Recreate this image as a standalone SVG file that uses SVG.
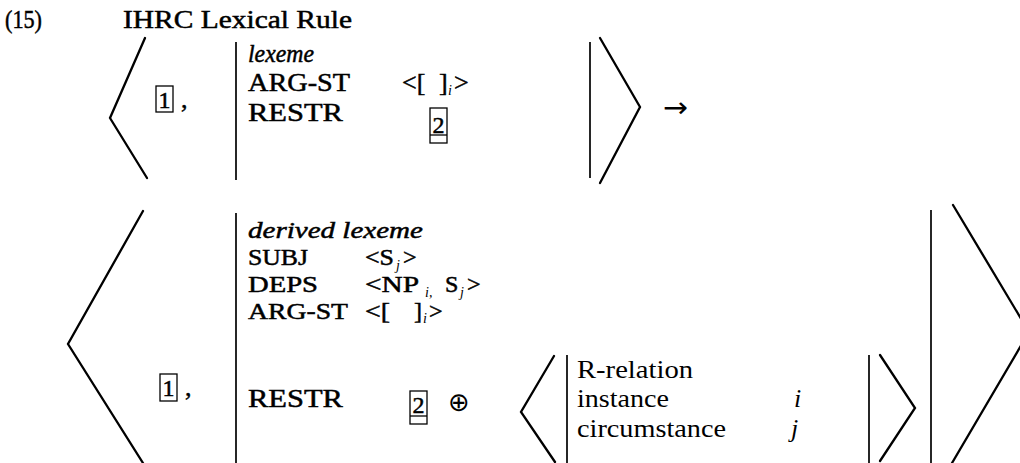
<svg xmlns="http://www.w3.org/2000/svg" width="1020" height="463" viewBox="0 0 1020 463">
<style>
.t{font-family:"Liberation Serif","Times New Roman",serif;font-size:26px;fill:#000}
.s{font-size:24px}
.h{stroke:#000;stroke-width:0.5}
.it{font-style:italic}
.sub{font-family:"Liberation Serif","Times New Roman",serif;font-size:14px;font-style:italic;fill:#000}
.br{fill:none;stroke:#000;stroke-width:2.3;stroke-linejoin:miter;stroke-linecap:round}
.vl{fill:none;stroke:#000;stroke-width:1.7}
.box{fill:none;stroke:#000;stroke-width:1.3}
</style>
<rect width="1020" height="463" fill="#fff"/>
<g id="title">
<text class="t h" x="5" y="28" textLength="37" lengthAdjust="spacingAndGlyphs">(15)</text>
<text class="t h" x="123" y="28" textLength="229" lengthAdjust="spacingAndGlyphs">IHRC Lexical Rule</text>
</g>
<g id="input">
<polyline class="br" points="145,38 110,118 147,178"/>
<rect class="box" x="156" y="86" width="17" height="26"/>
<text class="t h s" x="164.5" y="108" text-anchor="middle">1</text>
<text class="t h" x="181" y="108">,</text>
<line class="vl" x1="236" y1="42" x2="236" y2="180"/>
<text class="t h it" x="248" y="62" textLength="66" lengthAdjust="spacingAndGlyphs">lexeme</text>
<text class="t h" x="248" y="91" textLength="102" lengthAdjust="spacingAndGlyphs">ARG-ST</text>
<text class="t h" x="402" y="91">&lt;[</text>
<text class="t h" x="439" y="91">]</text>
<text class="sub" x="448" y="95">i</text>
<text class="t h" x="454" y="91">&gt;</text>
<text class="t h" x="248" y="121" textLength="95" lengthAdjust="spacingAndGlyphs">RESTR</text>
<rect class="box" x="430" y="108" width="17" height="35"/>
<line class="box" x1="430" y1="135" x2="447" y2="135"/>
<text class="t h s" x="438.5" y="133" text-anchor="middle">2</text>
<line class="vl" x1="590" y1="42" x2="590" y2="178"/>
<polyline class="br" points="600,38 640,107 600,183"/>
</g>
<g id="connectors">
<text x="663" y="117" style="font-family:'DejaVu Sans','Liberation Sans',sans-serif;font-size:28px;fill:#000" textLength="25" lengthAdjust="spacingAndGlyphs">→</text>
</g>
<g id="output">
<polyline class="br" points="143,211 68,344 143,463"/>
<rect class="box" x="160" y="374" width="17" height="27"/>
<text class="t h s" x="168.5" y="396" text-anchor="middle">1</text>
<text class="t h" x="185" y="396">,</text>
<line class="vl" x1="236" y1="213" x2="236" y2="463"/>
<text class="t h it s" x="248" y="238" textLength="175" lengthAdjust="spacingAndGlyphs">derived lexeme</text>
<text class="t h s" x="248" y="265" textLength="60" lengthAdjust="spacingAndGlyphs">SUBJ</text>
<text class="t h s" x="365" y="265" textLength="29" lengthAdjust="spacingAndGlyphs">&lt;S</text>
<text class="sub" x="396" y="270">j</text>
<text class="t h s" x="403" y="265">&gt;</text>
<text class="t h s" x="248" y="292" textLength="70" lengthAdjust="spacingAndGlyphs">DEPS</text>
<text class="t h s" x="365" y="292" textLength="54" lengthAdjust="spacingAndGlyphs">&lt;NP</text>
<text class="sub" x="425" y="297">i,</text>
<text class="t h s" x="445" y="292">S</text>
<text class="sub" x="460" y="297">j</text>
<text class="t h s" x="467" y="292">&gt;</text>
<text class="t h s" x="248" y="319" textLength="100" lengthAdjust="spacingAndGlyphs">ARG-ST</text>
<text class="t h s" x="365" y="319" textLength="25" lengthAdjust="spacingAndGlyphs">&lt;[</text>
<text class="t h s" x="414" y="319">]</text>
<text class="sub" x="423" y="323">i</text>
<text class="t h s" x="429" y="319">&gt;</text>
<text class="t h" x="248" y="407" textLength="95" lengthAdjust="spacingAndGlyphs">RESTR</text>
<rect class="box" x="410" y="391" width="17" height="33"/>
<line class="box" x1="410" y1="416" x2="427" y2="416"/>
<text class="t h s" x="418.5" y="413" text-anchor="middle">2</text>
<text x="459" y="411" text-anchor="middle" style="font-family:'DejaVu Sans',sans-serif;font-size:26px;fill:#000">⊕</text>
<line class="vl" x1="931" y1="210" x2="931" y2="463"/>
<polyline class="br" points="953,205 1029,332 952,463"/>
</g>
<g id="relation">
<polyline class="br" points="554,356 521,412 555,462"/>
<line class="vl" x1="567" y1="355" x2="567" y2="463"/>
<text class="t" x="577" y="378" textLength="116" lengthAdjust="spacingAndGlyphs">R-relation</text>
<text class="t" x="577" y="407" textLength="92" lengthAdjust="spacingAndGlyphs">instance</text>
<text class="t" x="577" y="437" textLength="149" lengthAdjust="spacingAndGlyphs">circumstance</text>
<text class="t it" x="794" y="407">i</text>
<text class="t it" x="791" y="437">j</text>
<line class="vl" x1="869" y1="355" x2="869" y2="463"/>
<polyline class="br" points="880,355 915,408 880,461"/>
</g>
</svg>
